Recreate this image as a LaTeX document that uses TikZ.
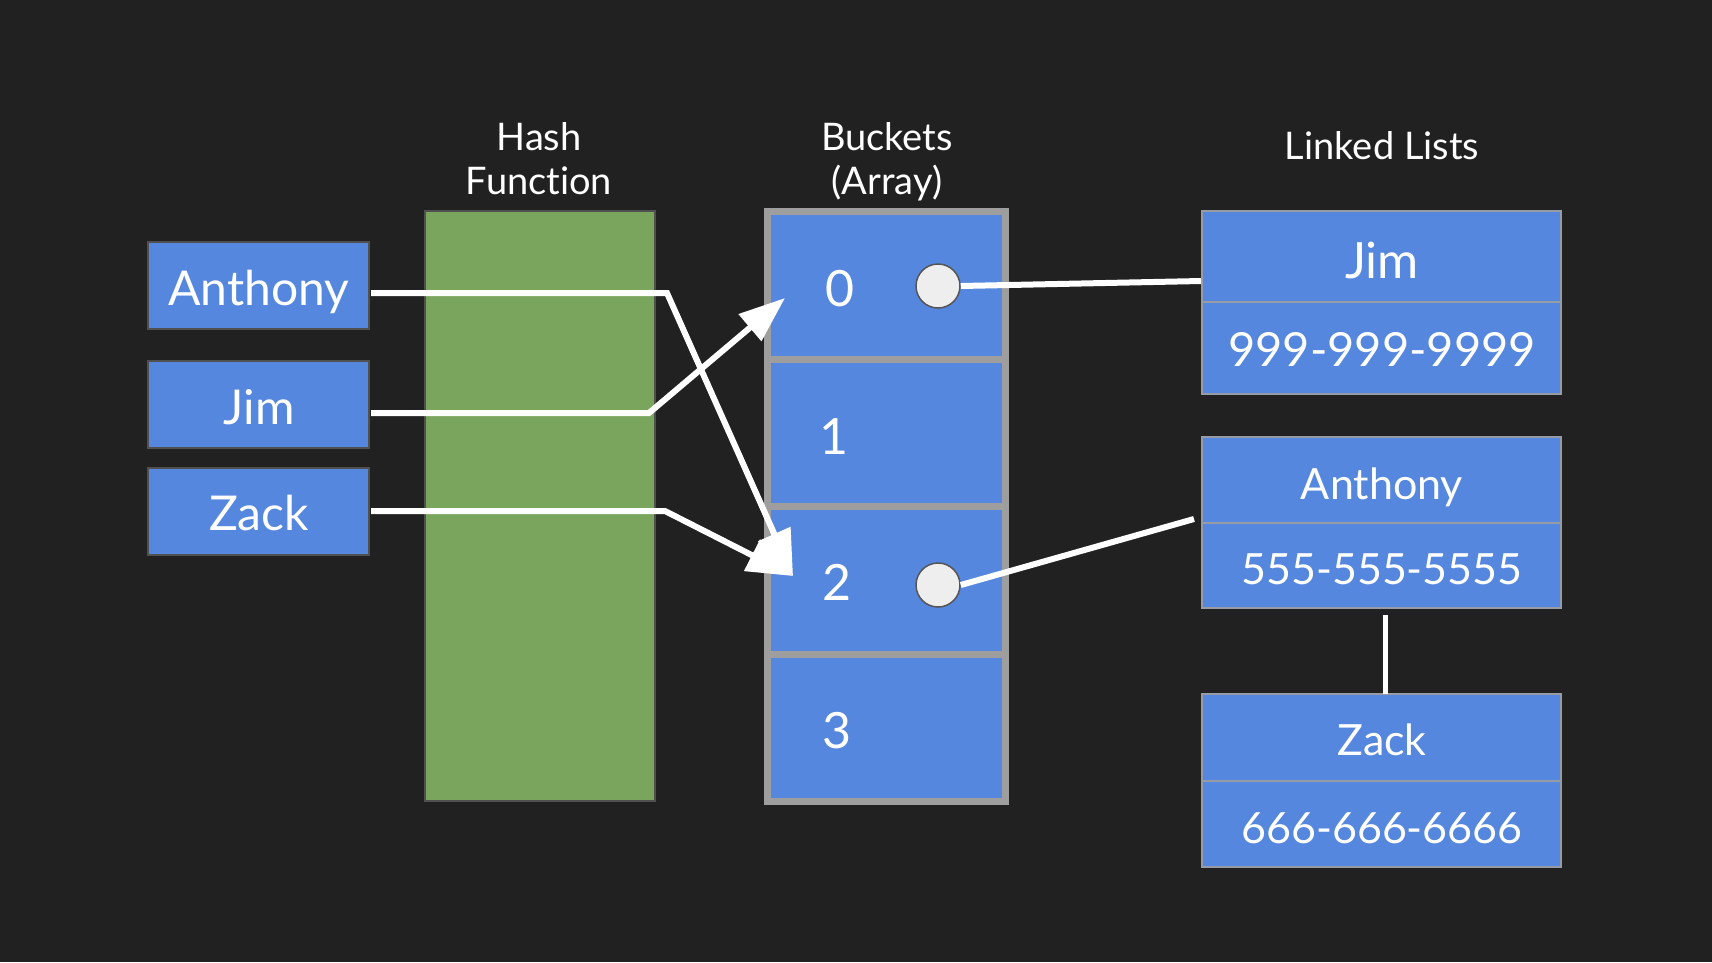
\documentclass[tikz,border=0pt]{standalone}
\usepackage{fontspec}
\setmainfont{Lato}[Ligatures=NoCommon]
\usetikzlibrary{arrows.meta}
\definecolor{bg}{RGB}{33,33,33}
\definecolor{cellblue}{RGB}{86,135,222}
\definecolor{hashgreen}{RGB}{121,165,93}
\definecolor{bucketgray}{RGB}{158,158,158}
\definecolor{llgray}{RGB}{150,155,165}
\definecolor{keyedge}{RGB}{80,80,80}
\definecolor{dotfill}{RGB}{238,238,238}
\definecolor{dotedge}{RGB}{85,85,85}
\begin{document}
\begin{tikzpicture}[x=1pt,y=-1pt,
  keybox/.style={draw=keyedge, line width=2pt, fill=cellblue, inner sep=0pt, minimum width=221pt, minimum height=87pt},
  hashbox/.style={draw=keyedge, line width=2pt, fill=hashgreen, inner sep=0pt},
  cellbox/.style={draw=bucketgray, line width=7pt, fill=cellblue, inner sep=0pt, minimum width=238pt},
  llbox/.style={draw=llgray, line width=2pt, fill=cellblue, inner sep=0pt, minimum width=359pt},
  dot/.style={circle, draw=dotedge, line width=1.5pt, fill=dotfill, inner sep=0pt, minimum size=44pt},
  txt/.style={text=white, anchor=base, inner sep=0pt},
  keytxt/.style={txt, font=\fontsize{48pt}{48pt}\selectfont},
  bigtxt/.style={txt, font=\fontsize{50pt}{50pt}\selectfont},
  numtxt/.style={txt, font=\fontsize{47pt}{47pt}\selectfont},
  midtxt/.style={txt, font=\fontsize{43pt}{43pt}\selectfont},
  titletxt/.style={txt, font=\fontsize{38pt}{38pt}\selectfont},
  conn/.style={draw=white, line width=6pt},
  head/.style={-{Triangle[length=46pt,width=34pt]}}
]
\useasboundingbox (0,0) rectangle (1712,962);
\fill[bg] (0,0) rectangle (1712,962);

% titles
\node[titletxt] (tHash) at (539,150) {Hash};
\node[titletxt] (tFunc) at (539,194) {Function};
\node[titletxt] (tBuck) at (887,150) {Buckets};
\node[titletxt] (tArr) at (887,194) {(Array)};
\node[titletxt] (tLL) at (1382,159) {Linked Lists};

% hash function block
\node[hashbox, minimum width=230pt, minimum height=590pt] (hash) at (540,506) {};

% key boxes
\node[keybox] (kA) at (258.5,285.5) {};
\node[keybox] (kJ) at (258.5,404.5) {};
\node[keybox] (kZ) at (258.5,511.5) {};
\node[keytxt] (kAt) at (259,305.7) {Anthony};
\node[keytxt] (kJt) at (259,424.7) {Jim};
\node[keytxt] (kZt) at (259,530.6) {Zack};

% buckets
\node[cellbox, minimum height=147.5pt] (b0) at (886.5,285.25) {};
\node[cellbox, minimum height=147pt] (b1) at (886.5,432.5) {};
\node[cellbox, minimum height=148pt] (b2) at (886.5,580) {};
\node[cellbox, minimum height=147.5pt] (b3) at (886.5,727.75) {};
\node[bigtxt] (b0t) at (840,306.8) {0};
\node[bigtxt] (b1t) at (834,454) {1};
\node[bigtxt] (b2t) at (837,600.5) {2};
\node[bigtxt] (b3t) at (837,748) {3};

% linked list boxes
\node[llbox, minimum height=91pt] (lJ1) at (1381.5,256.5) {};
\node[llbox, minimum height=92pt] (lJ2) at (1381.5,348) {};
\node[llbox, minimum height=86pt] (lA1) at (1381.5,480) {};
\node[llbox, minimum height=85pt] (lA2) at (1381.5,565.5) {};
\node[llbox, minimum height=87pt] (lZ1) at (1381.5,737.5) {};
\node[llbox, minimum height=86pt] (lZ2) at (1381.5,824) {};
\node[bigtxt] (lJ1t) at (1382,278.4) {Jim};
\node[numtxt] (lJ2t) at (1382,366.8) {999-999-9999};
\node[midtxt] (lA1t) at (1382,499) {Anthony};
\node[midtxt] (lA2t) at (1382,584) {555-555-5555};
\node[midtxt] (lZ1t) at (1382,755.5) {Zack};
\node[midtxt] (lZ2t) at (1382,843) {666-666-6666};

% connector points
\coordinate (aStart) at (371,293);
\coordinate (aBend) at (667,293);
\coordinate (jStart) at (371,413);
\coordinate (jBend) at (649,413);
\coordinate (zStart) at (371,511);
\coordinate (zBend) at (665,511);
\coordinate (tip0) at (785,298);
\coordinate (tip2) at (793,576);
\coordinate (lJin) at (1201,281);
\coordinate (lAin) at (1194,519);
\coordinate (vTop) at (1385,615);
\coordinate (vBot) at (1385,694);

% arrows
\draw[conn, head] (aStart) -- (aBend) -- (tip2);
\draw[conn, head] (jStart) -- (jBend) -- (tip0);
\draw[conn, head] (zStart) -- (zBend) -- (tip2);

% pointers
\node[dot] (c0) at (938,286) {};
\node[dot] (c2) at (938,585) {};
\draw[conn] (c0.east) -- (lJin);
\draw[conn] (c2.east) -- (lAin);
\draw[draw=white, line width=5pt] (vTop) -- (vBot);
\end{tikzpicture}
\end{document}
